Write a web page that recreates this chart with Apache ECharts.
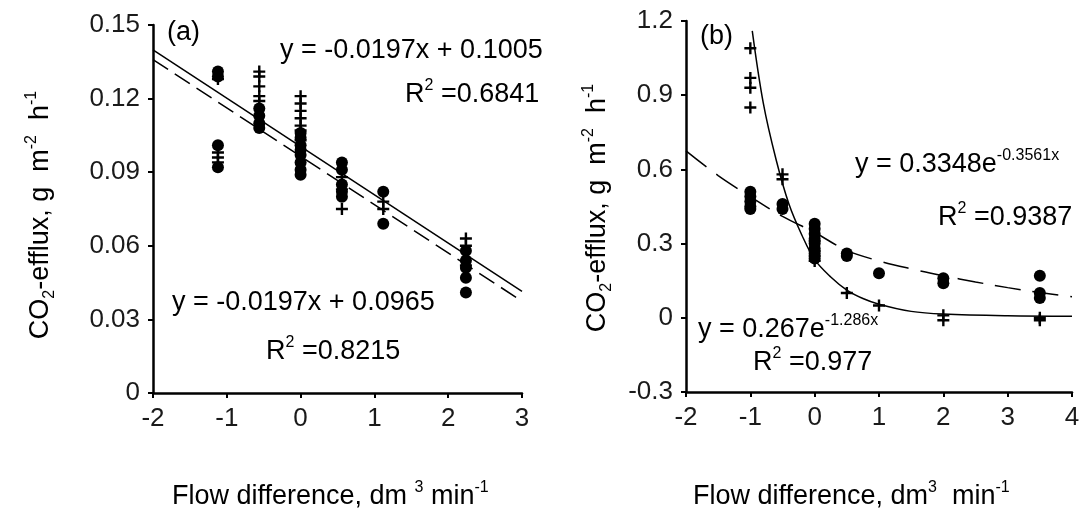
<!DOCTYPE html>
<html>
<head>
<meta charset="utf-8">
<script src="https://cdn.jsdelivr.net/npm/echarts@6/dist/echarts.min.js"></script>
<style>
html,body{margin:0;padding:0;background:#fff;}
#chart{width:1084px;height:512px;}
</style>
</head>
<body>
<div id="chart"></div>
<script>
// ---------- Panel (a) data ----------
const aGroupX = [-1.12, -0.56, 0, 0.56, 1.12, 2.24];
const aCircles = [
  [0.131, 0.129, 0.101, 0.092],
  [0.116, 0.113, 0.110, 0.108],
  [0.106, 0.104, 0.101, 0.099, 0.097, 0.094, 0.091, 0.089],
  [0.094, 0.091, 0.085, 0.082, 0.080],
  [0.082, 0.069],
  [0.058, 0.054, 0.051, 0.047, 0.041]
];
const aCrosses = [
  [0.128, 0.098, 0.096, 0.094],
  [0.131, 0.129, 0.125, 0.121, 0.119],
  [0.121, 0.118, 0.115, 0.112, 0.109, 0.107, 0.103],
  [0.088, 0.083, 0.075],
  [0.078, 0.075],
  [0.063, 0.060, 0.052]
];
const aSolidLineX = [-2, 3];
const aSolidLineY = [0.1399, 0.0414];
const aDashLineX = [-2, 3];
const aDashLineY = [0.1359, 0.0374];
const aYTicks = {min: 0, max: 0.15, interval: 0.03};
const aXTicks = {min: -2, max: 3, interval: 1};

// ---------- Panel (b) data ----------
const bGroupX = [-1, -0.5, 0, 0.5, 1, 2, 3.5];
const bCircles = [
  [0.51, 0.49, 0.47, 0.45, 0.44],
  [0.46, 0.44],
  [0.38, 0.36, 0.34, 0.32, 0.30, 0.28, 0.26, 0.24],
  [0.26, 0.25],
  [0.18],
  [0.16, 0.14],
  [0.17, 0.10, 0.08]
];
const bCrosses = [
  [1.09, 0.97, 0.93, 0.85],
  [0.58, 0.56],
  [0.31, 0.27, 0.25, 0.23],
  [0.10],
  [0.05],
  [0.01, -0.01],
  [0.0, -0.01]
];
const bSolidCurveX = [-0.97, -0.8, -0.6, -0.4, -0.2, 0, 0.25, 0.5, 0.75, 1.0, 1.5, 2.0, 3.0, 4.0];
const bSolidCurveY = [1.16, 0.87, 0.64, 0.46, 0.335, 0.235, 0.165, 0.112, 0.078, 0.055, 0.026, 0.015, 0.008, 0.006];
const bDashCurveX = [-2, -1.5, -1, -0.5, 0, 0.5, 1, 1.5, 2, 2.5, 3, 3.5, 4];
const bDashCurveY = [0.675, 0.575, 0.49, 0.41, 0.345, 0.272, 0.23, 0.198, 0.17, 0.145, 0.122, 0.102, 0.085];
const bYTicks = {min: -0.3, max: 1.2, interval: 0.3};
const bXTicks = {min: -2, max: 4, interval: 1};

// ---------- helpers ----------
function pairs(groupX, groups) {
  const out = [];
  groups.forEach((vals, i) => vals.forEach(v => out.push([groupX[i], v])));
  return out;
}
function zip(xs, ys) { return xs.map((x, i) => [x, ys[i]]); }

const FONT = '"Liberation Sans", Arial, sans-serif';
const TXT = '#1a1a1a';
const PLUS = 'path://M4,0h2v4h4v2h-4v4h-2v-4h-4v-2h4z';

function xAxisCfg(idx, t) {
  return {
    gridIndex: idx, type: 'value', min: t.min, max: t.max, interval: t.interval,
    axisLine: {onZero: false, lineStyle: {color: '#000', width: 2.5}},
    axisTick: {length: 5, lineStyle: {color: '#000', width: 2}},
    axisLabel: {fontSize: 26, color: TXT, margin: 13, fontFamily: FONT},
    splitLine: {show: false}
  };
}
function yAxisCfg(idx, t) {
  return {
    gridIndex: idx, type: 'value', min: t.min, max: t.max, interval: t.interval,
    axisLine: {onZero: false, lineStyle: {color: '#000', width: 2.5}},
    axisTick: {length: 5, lineStyle: {color: '#000', width: 2}},
    axisLabel: {fontSize: 26, color: TXT, margin: 13, fontFamily: FONT},
    splitLine: {show: false}
  };
}

const rich = {
  t: {fontSize: 27, fontFamily: FONT, color: TXT, lineHeight: 34},
  s: {fontSize: 16, fontFamily: FONT, color: TXT, lineHeight: 16, verticalAlign: 'top'},
  b: {fontSize: 16, fontFamily: FONT, color: TXT, lineHeight: 16, verticalAlign: 'bottom'}
};
function txt(x, y, text, extra) {
  return Object.assign({
    type: 'text', x: x, y: y,
    style: {text: text, rich: rich, align: 'left', verticalAlign: 'middle'}
  }, extra || {});
}

const markStyle = {color: '#000', opacity: 1};

const option = {
  animation: false,
  backgroundColor: '#fff',
  grid: [
    {left: 153, top: 25, width: 369, height: 368},
    {left: 686, top: 21, width: 386, height: 371}
  ],
  xAxis: [xAxisCfg(0, aXTicks), xAxisCfg(1, bXTicks)],
  yAxis: [yAxisCfg(0, aYTicks), yAxisCfg(1, bYTicks)],
  series: [
    {type: 'line', xAxisIndex: 0, yAxisIndex: 0, data: zip(aSolidLineX, aSolidLineY), symbol: 'none',
     lineStyle: {color: '#000', width: 1.5}},
    {type: 'line', xAxisIndex: 0, yAxisIndex: 0, data: zip(aDashLineX, aDashLineY), symbol: 'none',
     lineStyle: {color: '#000', width: 1.5, type: [18, 8]}},
    {type: 'scatter', xAxisIndex: 0, yAxisIndex: 0, data: pairs(aGroupX, aCircles), symbol: 'circle',
     symbolSize: 12, itemStyle: markStyle},
    {type: 'scatter', xAxisIndex: 0, yAxisIndex: 0, data: pairs(aGroupX, aCrosses), symbol: PLUS,
     symbolSize: 12, itemStyle: markStyle},

    {type: 'line', xAxisIndex: 1, yAxisIndex: 1, data: zip(bSolidCurveX, bSolidCurveY), symbol: 'none',
     smooth: 0.35, lineStyle: {color: '#000', width: 1.5}},
    {type: 'line', xAxisIndex: 1, yAxisIndex: 1, data: zip(bDashCurveX, bDashCurveY), symbol: 'none',
     smooth: 0.35, lineStyle: {color: '#000', width: 1.5, type: [26, 12]}},
    {type: 'scatter', xAxisIndex: 1, yAxisIndex: 1, data: pairs(bGroupX, bCircles), symbol: 'circle',
     symbolSize: 12, itemStyle: markStyle},
    {type: 'scatter', xAxisIndex: 1, yAxisIndex: 1, data: pairs(bGroupX, bCrosses), symbol: PLUS,
     symbolSize: 12, itemStyle: markStyle}
  ],
  graphic: [
    // panel (a)
    txt(167, 33, '{t|(a)}'),
    txt(280, 51, '{t|y = -0.0197x + 0.1005}'),
    txt(405, 95, '{t|R}{s|2}{t| =0.6841}'),
    txt(172, 303, '{t|y = -0.0197x + 0.0965}'),
    txt(266, 352, '{t|R}{s|2}{t| =0.8215}'),
    // panel (b)
    txt(700, 37, '{t|(b)}'),
    txt(855, 165, '{t|y = 0.3348e}{s|-0.3561x}'),
    txt(938, 218, '{t|R}{s|2}{t| =0.9387}'),
    txt(698, 330, '{t|y = 0.267e}{s|-1.286x}'),
    txt(753, 363, '{t|R}{s|2}{t| =0.977}'),
    // axis titles
    txt(172, 497, '{t|Flow difference, dm }{s|3}{t| min}{s|-1}'),
    txt(693, 497, '{t|Flow difference, dm}{s|3}{t|  min}{s|-1}'),
    {type: 'text', x: 41, y: 215, rotation: Math.PI / 2,
     style: {text: '{t|CO}{b|2}{t|-efflux, g  m}{s|-2}{t|  h}{s|-1}', rich: rich, align: 'center', verticalAlign: 'middle'}},
    {type: 'text', x: 598, y: 208, rotation: Math.PI / 2,
     style: {text: '{t|CO}{b|2}{t|-efflux, g  m}{s|-2}{t|  h}{s|-1}', rich: rich, align: 'center', verticalAlign: 'middle'}}
  ]
};

const chart = echarts.init(document.getElementById('chart'), null, {renderer: 'canvas'});
chart.setOption(option);
</script>
</body>
</html>
